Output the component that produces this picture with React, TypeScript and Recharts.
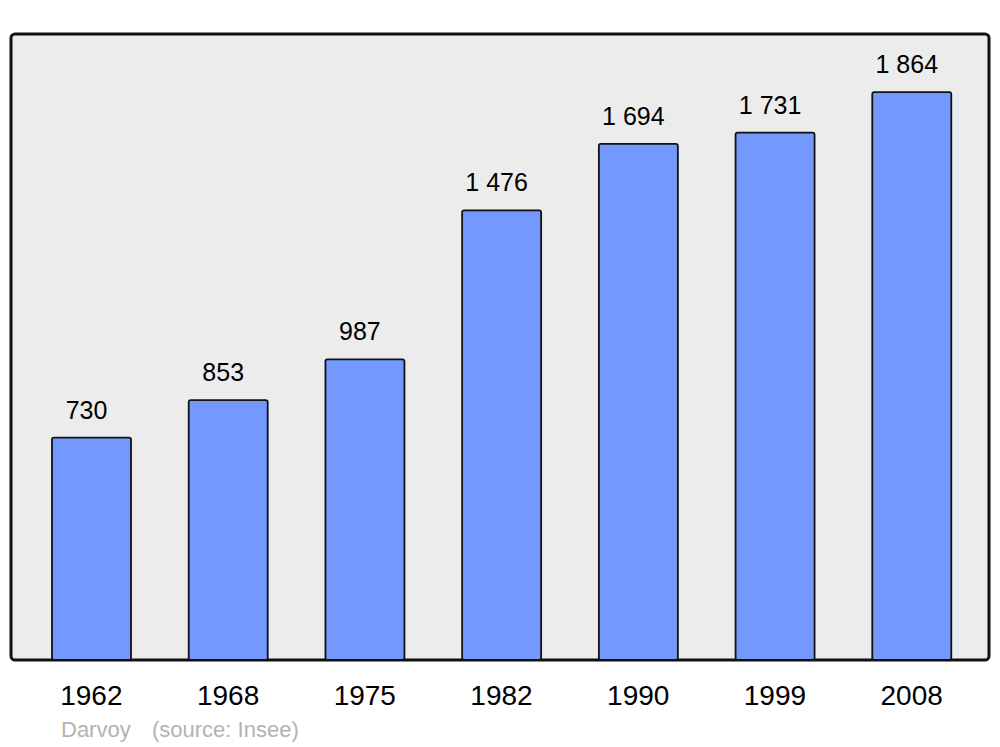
import React from "react";
import {
  BarChart,
  Bar,
  XAxis,
  YAxis,
  ReferenceArea,
  LabelList,
  Customized,
} from "recharts";

const years = ["1962", "1968", "1975", "1982", "1990", "1999", "2008"];
const population = [730, 853, 987, 1476, 1694, 1731, 1864];
const townName = "Darvoy";
const sourceNote = "(source: Insee)";

const data = years.map((year, i) => ({ year, population: population[i] }));

const FONT = "'Liberation Sans', Arial, sans-serif";
const PAD_LEFT = 12;
const PAD_RIGHT = 9;

const fmt = (v: number) => String(v).replace(/\B(?=(\d{3})+(?!\d))/g, " ");

const ValueLabel = (props: any) => {
  const { x, y, width, value } = props;
  return (
    <text
      x={x + width / 2 - 5}
      y={y - 19}
      textAnchor="middle"
      fontSize={25}
      fontFamily={FONT}
      fill="#000"
    >
      {fmt(value)}
    </text>
  );
};

// plot frame: the reference area only spans the padded band, so widen it back out
const Frame = (props: any) => {
  const { x, y, width, height } = props;
  return (
    <rect
      x={x - PAD_LEFT}
      y={y}
      width={width + PAD_LEFT + PAD_RIGHT}
      height={height}
      rx={4}
      ry={4}
      fill="#ececec"
      stroke="#111"
      strokeWidth={3}
    />
  );
};

const Footer = () => (
  <g fontFamily={FONT} fontSize={22} fill="#b3b3b3">
    <text x={61} y={737}>{townName}</text>
    <text x={152} y={737}>{sourceNote}</text>
  </g>
);

export default function App() {
  return (
    <div style={{ position: "absolute", left: 0, top: 0, width: 1000, height: 747, background: "#fff" }}>
      <BarChart
        width={1000}
        height={747}
        data={data}
        margin={{ top: 34, right: 11, bottom: 0, left: 11 }}
      >
        <XAxis
          dataKey="year"
          height={87}
          axisLine={false}
          tickLine={false}
          tickMargin={19}
          padding={{ left: PAD_LEFT, right: PAD_RIGHT }}
          tick={{ fontSize: 28, fill: "#000", fontFamily: FONT }}
        />
        <YAxis hide domain={[0, 2055]} />
        <ReferenceArea y1={0} y2={2055} shape={<Frame />} ifOverflow="visible" />
        <Bar
          dataKey="population"
          barSize={79}
          fill="#7399ff"
          stroke="#111"
          strokeWidth={1.8}
          radius={2}
          isAnimationActive={false}
        >
          <LabelList dataKey="population" content={<ValueLabel />} />
        </Bar>
        <Customized component={Footer} />
      </BarChart>
    </div>
  );
}
